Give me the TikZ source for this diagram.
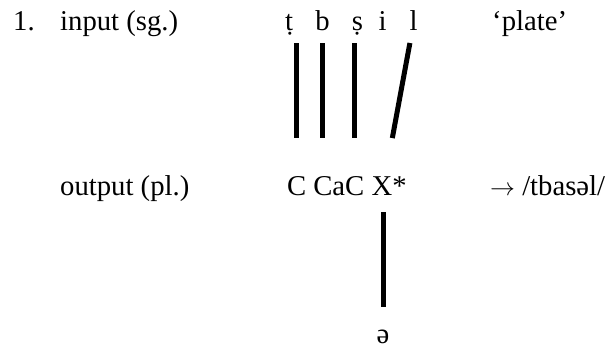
\documentclass[tikz,border=0pt]{standalone}
\usepackage{fontspec}
\setmainfont{Liberation Serif}
\usetikzlibrary{positioning}
\tikzset{
	every node/.style = {font=\fontsize{28.7}{34}\selectfont},
	seg/.style = {inner sep=0pt, outer sep=0pt, text height=20pt, text depth=7pt, anchor=base},
	word/.style = {inner sep=0pt, anchor=base west},
	assoc/.style = {line width=5pt, shorten <=19.5pt, shorten >=37pt},
}
\begin{document}
\begin{tikzpicture}[x=1pt, y=-1pt]
	\useasboundingbox (0,0) rectangle (615,351);
	% input row
	\node (num) [word] at (13,30) {1.};
	\node (in) [word] at (60,30) {input (sg.)};
	\node (t) [seg] at (289,30) {ṭ};
	\node (b) [seg] at (322.5,30) {b};
	\node (s) [seg] at (357.5,30) {ṣ};
	\node (i) [seg] at (382.5,30) {i};
	\node (l) [seg] at (413.5,30) {l};
	\node (gloss) [word] at (492,30) {‘plate’};
	% output row
	\node (out) [word] at (60,195) {output (pl.)};
	\node (c1) [seg, anchor=base west] at (287,195) {C};
	\node (c2) [seg, right = 7.2pt of c1] {C};
	\node (a) [seg, right = 0pt of c2] {a};
	\node (c3) [seg, right = 0pt of a] {C};
	\node (x) [seg, right = 7.2pt of c3] {X*};
	\node (res) [word] at (490,195) {$\rightarrow$ /tbasəl/};
	\node (schwa) [inner sep=0pt, anchor=base] at (383,343.5) {ə};
	% association lines
	\path (c1 |- t) edge[assoc] (c1);
	\path (c2 |- b) edge[assoc] (c2);
	\path (c3 |- s) edge[assoc] (c3);
	\path (l) edge[assoc, shorten <=6.1pt, shorten >=51.3pt] (schwa |- x);
	\path (schwa |- x) edge[assoc, shorten <=23.5pt, shorten >=23pt] (schwa);
\end{tikzpicture}
\end{document}
